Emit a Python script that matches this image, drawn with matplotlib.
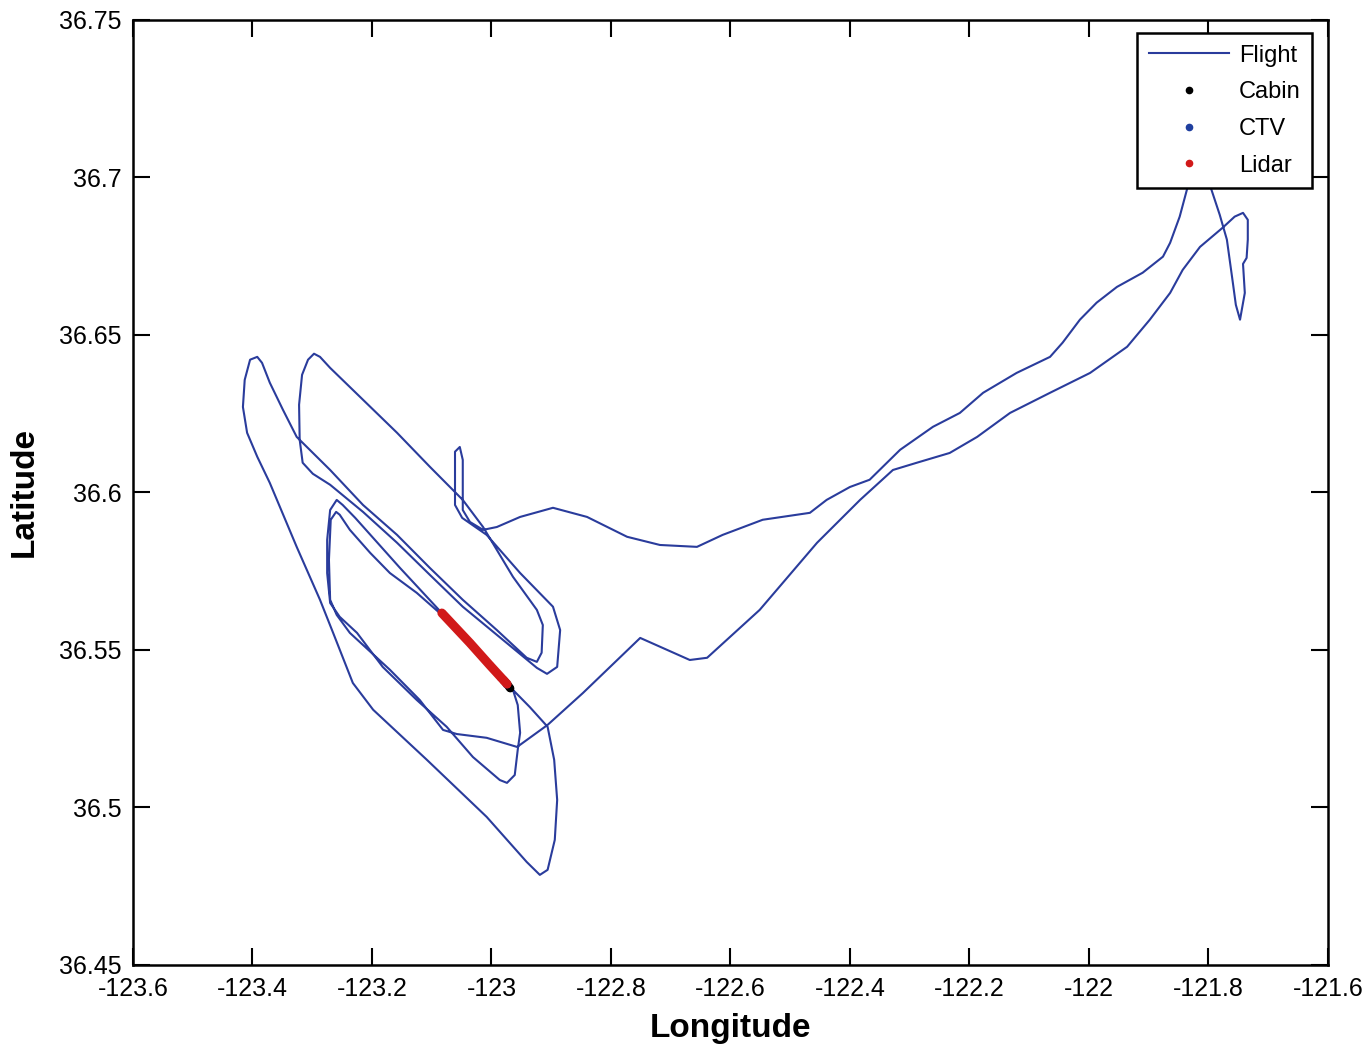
import matplotlib.pyplot as plt

# flight track (lon, lat)
flight_lon = [
    -121.814, -121.836, -121.848, -121.864, -121.876, -121.910, -121.953, -121.987,
    -122.015, -122.044, -122.065, -122.121, -122.177, -122.216, -122.261, -122.316,
    -122.367, -122.400, -122.439, -122.467, -122.546, -122.613, -122.656, -122.718,
    -122.773, -122.840, -122.897, -122.952, -122.991, -123.014,
    -123.036, -123.048, -123.048, -123.053, -123.061, -123.061, -123.049,
    -123.008, -122.952, -122.897, -122.885, -122.890, -122.907, -122.924,
    -122.991, -123.048, -123.103, -123.158, -123.215, -123.270, -123.299, -123.316,
    -123.321, -123.322, -123.317, -123.307, -123.297, -123.287,
    -123.270, -123.215, -123.158, -123.103, -123.048, -123.014,
    -122.964, -122.924, -122.914, -122.916, -122.924, -122.941,
    -122.991, -123.048, -123.103, -123.158, -123.215, -123.270, -123.326, -123.349,
    -123.371, -123.384, -123.392,
    -123.404, -123.413, -123.416, -123.409, -123.392, -123.371, -123.326, -123.287,
    -123.265, -123.232, -123.198, -123.108, -123.008, -122.941, -122.919,
    -122.906, -122.894, -122.890, -122.895, -122.906,
    -122.936, -122.964, -123.019, -123.083, -123.108, -123.153, -123.195, -123.228,
    -123.249, -123.259,
    -123.270, -123.275, -123.275, -123.270, -123.254, -123.225, -123.182, -123.125,
    -123.075, -123.031, -122.986, -122.974,
    -122.961, -122.956, -122.952, -122.956, -122.964,
    -123.019, -123.083, -123.125, -123.170, -123.203, -123.237, -123.254, -123.260,
    -123.269, -123.272, -123.270, -123.259, -123.237, -123.170, -123.120, -123.081,
    -123.058, -123.008, -122.957,
    -122.906, -122.847, -122.751, -122.668, -122.639, -122.551, -122.455, -122.383,
    -122.328, -122.288, -122.233, -122.187, -122.132, -122.065, -121.998, -121.936,
    -121.898, -121.864, -121.843, -121.814, -121.776,
    -121.756, -121.742, -121.734, -121.734, -121.736, -121.742,
    -121.739, -121.747, -121.754, -121.759, -121.769, -121.781, -121.796, -121.809,
    -121.814,
]
flight_lat = [
    36.7103, 36.6960, 36.6875, 36.6792, 36.6748, 36.6697, 36.6652, 36.6602,
    36.6548, 36.6475, 36.6430, 36.6379, 36.6316, 36.6252, 36.6208, 36.6135,
    36.6040, 36.6017, 36.5976, 36.5935, 36.5913, 36.5865, 36.5827, 36.5833,
    36.5859, 36.5922, 36.5951, 36.5922, 36.5890, 36.5881,
    36.5906, 36.5944, 36.6103, 36.6144, 36.6129, 36.5960, 36.5919,
    36.5865, 36.5744, 36.5637, 36.5563, 36.5446, 36.5424, 36.5443,
    36.5548, 36.5637, 36.5738, 36.5840, 36.5938, 36.6024, 36.6059, 36.6094,
    36.6167, 36.6278, 36.6373, 36.6421, 36.6440, 36.6430,
    36.6395, 36.6294, 36.6189, 36.6081, 36.5976, 36.5890,
    36.5732, 36.5627, 36.5579, 36.5491, 36.5462, 36.5475,
    36.5563, 36.5659, 36.5760, 36.5865, 36.5960, 36.6071, 36.6176, 36.6262,
    36.6348, 36.6411, 36.6430,
    36.6421, 36.6357, 36.6271, 36.6189, 36.6113, 36.6030, 36.5827, 36.5659,
    36.5554, 36.5395, 36.5310, 36.5151, 36.4970, 36.4827, 36.4786,
    36.4802, 36.4897, 36.5024, 36.5151, 36.5256,
    36.5319, 36.5373, 36.5491, 36.5617, 36.5668, 36.5760, 36.5849, 36.5919,
    36.5960, 36.5976,
    36.5944, 36.5849, 36.5744, 36.5649, 36.5605, 36.5554, 36.5446, 36.5341,
    36.5256, 36.5160, 36.5087, 36.5078,
    36.5103, 36.5183, 36.5237, 36.5325, 36.5373,
    36.5484, 36.5611, 36.5681, 36.5744, 36.5808, 36.5881, 36.5929, 36.5938,
    36.5913, 36.5786, 36.5659, 36.5611, 36.5554, 36.5437, 36.5341, 36.5246,
    36.5233, 36.5221, 36.5192,
    36.5262, 36.5363, 36.5538, 36.5468, 36.5475, 36.5627, 36.5840, 36.5976,
    36.6071, 36.6094, 36.6125, 36.6176, 36.6252, 36.6316, 36.6379, 36.6462,
    36.6548, 36.6633, 36.6706, 36.6779, 36.6840,
    36.6875, 36.6887, 36.6865, 36.6802, 36.6744, 36.6725,
    36.6633, 36.6548, 36.6595, 36.6665, 36.6802, 36.6881, 36.6967, 36.7056,
    36.7103,
]

cabin_lon = [-122.980, -122.974, -122.969]
cabin_lat = [36.5405, 36.5392, 36.5379]
ctv_lon = [-122.986, -122.976]
ctv_lat = [36.5414, 36.5392]
lidar_lon = [-123.083, -123.036, -123.003, -122.974]
lidar_lat = [36.5617, 36.5522, 36.5452, 36.5392]

xtick_vals = [-123.6, -123.4, -123.2, -123.0, -122.8, -122.6, -122.4, -122.2, -122.0, -121.8, -121.6]
xtick_labels = ['-123.6', '-123.4', '-123.2', '-123', '-122.8', '-122.6', '-122.4',
                '-122.2', '-122', '-121.8', '-121.6']
ytick_vals = [36.45, 36.5, 36.55, 36.6, 36.65, 36.7, 36.75]
ytick_labels = ['36.45', '36.5', '36.55', '36.6', '36.65', '36.7', '36.75']

plt.rcParams['font.family'] = ['Liberation Sans', 'DejaVu Sans']

fig = plt.figure(figsize=(13.64, 10.48), dpi=100)
ax = fig.add_axes([0.0975, 0.0792, 0.876, 0.902])

flight_col = '#2a3c9c'
ax.plot(flight_lon, flight_lat, color=flight_col, lw=1.5, label='Flight')
ax.plot(cabin_lon, cabin_lat, color='black', lw=6, solid_capstyle='round', label='_nolegend_')
ax.plot(cabin_lon, cabin_lat, '.', color='black', ms=9, label='Cabin')
ax.plot(ctv_lon, ctv_lat, '.', color='#1f3f9f', ms=9, label='CTV')
ax.plot(lidar_lon, lidar_lat, color='#d11919', lw=6.5, solid_capstyle='round', label='_nolegend_')
ax.plot(lidar_lon, lidar_lat, '.', color='#d11919', ms=9, label='Lidar')

ax.set_xlim(-123.6, -121.6)
ax.set_ylim(36.45, 36.75)
ax.set_xticks(xtick_vals)
ax.set_xticklabels(xtick_labels)
ax.set_yticks(ytick_vals)
ax.set_yticklabels(ytick_labels)
ax.tick_params(direction='in', length=12, width=1.5, top=True, right=True,
               labelsize=18, colors='black')
ax.tick_params(axis='x', pad=9)
ax.tick_params(axis='y', pad=8)
for s in ax.spines.values():
    s.set_linewidth(1.8)

ax.set_xlabel('Longitude', fontsize=24, fontweight='bold', labelpad=8)
ax.set_ylabel('Latitude', fontsize=24, fontweight='bold', labelpad=14)

leg = ax.legend(loc='upper right', bbox_to_anchor=(0.987, 0.986), fancybox=False,
                edgecolor='black', framealpha=1, prop={'size': 17},
                handlelength=3.4, handletextpad=0.4, labelspacing=0.62, borderpad=0.5,
                borderaxespad=0)
leg.get_frame().set_linewidth(1.8)

fig.savefig('out.png', dpi=100, facecolor='white')
